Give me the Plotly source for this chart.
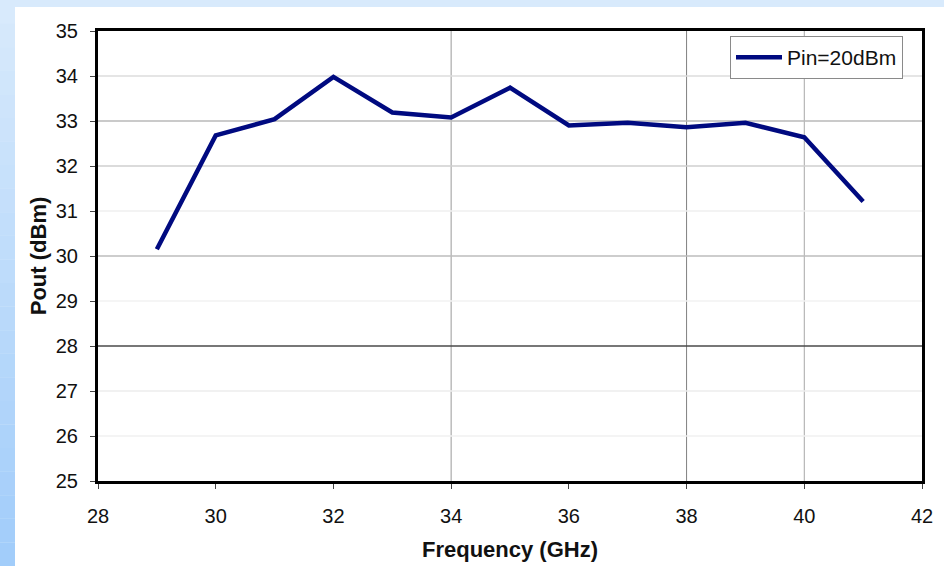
import plotly.graph_objects as go

# ---- data ----
freq_ghz = [29, 30, 31, 32, 33, 34, 35, 36, 37, 38, 39, 40, 41]
pout_dbm = [30.15, 32.68, 33.04, 33.98, 33.19, 33.08, 33.74, 32.90, 32.96, 32.86, 32.96, 32.64, 31.21]
series_name = "Pin=20dBm"
x_ticks = [28, 30, 32, 34, 36, 38, 40, 42]
y_ticks = [25, 26, 27, 28, 29, 30, 31, 32, 33, 34, 35]

# visible gridlines (the rest are faint/absent in the reference)
x_grid = {34: "#9a9a9a", 38: "#808080", 40: "#a8a8a8"}
y_grid = {26: "#f0f0f0", 27: "#ececec", 28: "#4a4a4a", 29: "#f2f2f2", 30: "#bdbdbd",
          31: "#efefef", 32: "#cfcfcf", 33: "#b8b8b8", 34: "#dcdcdc"}

FONT = "Liberation Sans, Arial, sans-serif"

fig = go.Figure()
fig.add_trace(go.Scatter(
    x=freq_ghz, y=pout_dbm, mode="lines", name=series_name,
    line=dict(color="#000a80", width=4.5),
))

# background: blue gradient strip on left/top, white panel
W, H = 944, 566
L, R, T, B = 98, 22, 31, 85
pw, ph = W - L - R, H - T - B
def px_x(p):
    return (p - L) / pw
def px_y(p):
    return (H - B - p) / ph

shapes = []
nb = 24
for i in range(nb):
    f = i / (nb - 1)
    r = int(0xd8 + (0xa2 - 0xd8) * f)
    g = int(0xea + (0xcd - 0xea) * f)
    b = int(0xfc + (0xfa - 0xfc) * f)
    shapes.append(dict(type="rect", xref="paper", yref="paper",
                       x0=px_x(0), x1=px_x(W), y0=px_y(H * (i + 1) / nb), y1=px_y(H * i / nb),
                       fillcolor=f"rgb({r},{g},{b})", line=dict(width=0), layer="below"))
shapes.append(dict(type="rect", xref="paper", yref="paper",
                   x0=px_x(15), x1=px_x(W + 5), y0=px_y(H + 5), y1=px_y(7),
                   fillcolor="white", line=dict(width=0), layer="below"))
for xv, c in x_grid.items():
    shapes.append(dict(type="line", xref="x", yref="y", x0=xv, x1=xv, y0=y_ticks[0], y1=y_ticks[-1],
                       line=dict(color=c, width=1), layer="below"))
for yv, c in y_grid.items():
    shapes.append(dict(type="line", xref="x", yref="y", x0=x_ticks[0], x1=x_ticks[-1], y0=yv, y1=yv,
                       line=dict(color=c, width=1.3), layer="below"))

fig.update_layout(
    width=W, height=H,
    margin=dict(l=L, r=R, t=T, b=B),
    paper_bgcolor="#d8eafc",
    plot_bgcolor="rgba(0,0,0,0)",
    font=dict(family=FONT, color="#111"),
    shapes=shapes,
    showlegend=True,
    legend=dict(x=px_x(903), y=px_y(36), xanchor="right", yanchor="top",
                bgcolor="white", bordercolor="#8a8a8a", borderwidth=1,
                font=dict(size=21, family=FONT, color="#111"),
                itemwidth=46, tracegroupgap=0),
    xaxis=dict(range=[28, 42], tickvals=x_ticks, showgrid=False, zeroline=False, automargin=False,
               showline=True, linecolor="black", linewidth=3, mirror=True,
               ticks="outside", ticklen=5, tickcolor="#444", tickwidth=1,
               tickfont=dict(size=20, family=FONT, color="#111"), ticklabelstandoff=10,
               title=dict(text="<b>Frequency (GHz)</b>", font=dict(size=22, family=FONT, color="#111"),
                          standoff=16)),
    yaxis=dict(range=[25, 35], tickvals=y_ticks, showgrid=False, zeroline=False, automargin=False,
               showline=True, linecolor="black", linewidth=3, mirror=True,
               ticks="outside", ticklen=5, tickcolor="#444", tickwidth=1,
               tickfont=dict(size=20, family=FONT, color="#111"), ticklabelstandoff=8,
               title=dict(text="<b>Pout (dBm)</b>", font=dict(size=22, family=FONT, color="#111"),
                          standoff=4)),
)

fig.write_html("out.html", config={"displayModeBar": False},
               post_script="document.body.style.margin='0';document.body.style.overflow='hidden';")
